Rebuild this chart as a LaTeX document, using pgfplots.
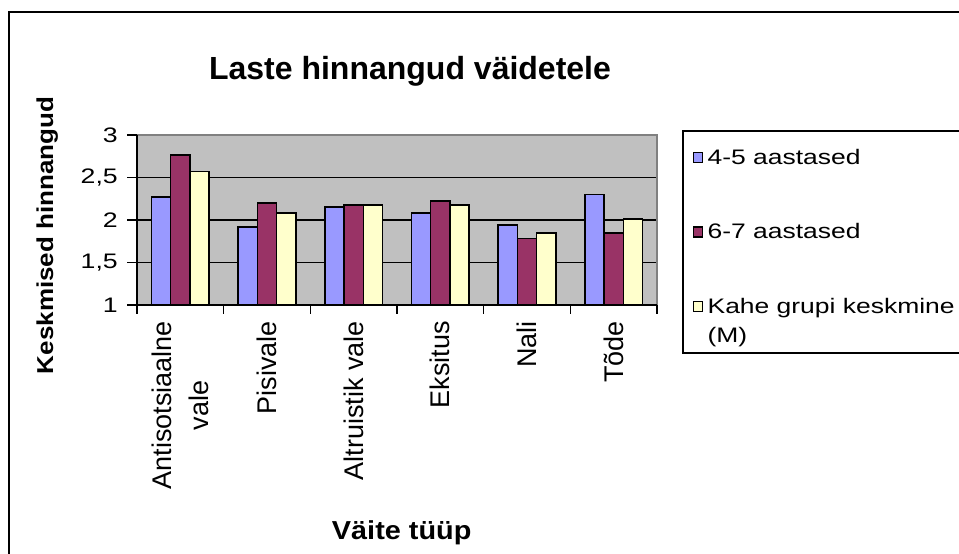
\documentclass[border=0pt]{standalone}
\usepackage{fontspec}
\setmainfont{Liberation Sans}
\usepackage{graphicx}
\usepackage{pgfplots}
\pgfplotsset{compat=1.18}
\definecolor{cblue}{RGB}{153,153,255}
\definecolor{cred}{RGB}{153,51,102}
\definecolor{cyel}{RGB}{255,255,204}
\definecolor{cbg}{RGB}{192,192,192}
\definecolor{cgr}{RGB}{128,128,128}
\newcommand{\wide}[1]{\scalebox{1.26}[1]{#1}}
\newcommand{\wy}[1]{\scalebox{1.27}[1]{#1}}
\begin{document}
\begin{tikzpicture}[x=1pt,y=1pt]
\useasboundingbox (0,0) rectangle (959,554);
\clip (0,0) rectangle (959,554);
\draw[line width=1.4pt] (9,-20) -- (9,542) -- (1000,542);
\begin{axis}[
  at={(137pt,249pt)}, anchor=south west,
  scale only axis, width=520pt, height=170pt,
  ybar=0pt, bar width=0.2226,
  xmin=-0.5, xmax=5.5, ymin=1, ymax=3,
  xtick={0,...,5},
  xticklabels={{Antisotsiaalne\\vale},Pisivale,{Altruistik vale},Eksitus,Nali,Tõde},
  minor xtick={-0.5,0.5,...,5.5},
  ytick={1,1.5,...,3},
  yticklabels={{\wy{1}},{\wy{1,5}},{\wy{2}},{\wy{2,5}},{\wy{3}}},
  tick pos=left,
  tick align=outside,
  major tick length=10pt,
  minor tick length=9pt,
  tick style={black, line width=1.4pt},
  major x tick style={draw=none},
  xticklabel style={rotate=90, anchor=east, align=center, font=\fontsize{27}{37}\selectfont, inner xsep=6pt},
  yticklabel style={font=\fontsize{21}{25}\selectfont, inner xsep=9pt},
  ymajorgrids, grid style={black, line width=1.4pt},
  axis line style={draw=none},
  axis background/.style={fill=cbg},
  title={Laste hinnangud väidetele},
  title style={at={(axis description cs:0.525,1.29)}, anchor=base, font=\fontsize{32}{38}\selectfont\bfseries},
  xlabel={\scalebox{1.11}[1]{Väite tüüp}},
  xlabel style={at={(axis description cs:0.509,-1.382)}, anchor=base, font=\fontsize{26}{30}\selectfont\bfseries},
  ylabel={\scalebox{1.13}[1]{Keskmised hinnangud}},
  ylabel style={at={(axis description cs:-0.1615,0.409)}, anchor=base, font=\fontsize{23}{28}\selectfont\bfseries},
  legend style={at={(axis description cs:1.0683,0.9176)}, anchor=north west, draw=none, fill=none, inner sep=0pt, outer sep=0pt, row sep=54.5pt, column sep=5pt, font=\fontsize{21}{29}\selectfont, nodes={anchor=base west, inner sep=0pt, text height=15pt, text depth=5pt}},
  legend image code/.code={\draw[#1, line width=1.1pt] (0pt,1.5pt) rectangle (9pt,11.5pt);},
  after end axis/.code={
    \draw[cgr, line width=1.4pt] (axis description cs:0,1) -- (axis description cs:1,1) -- (axis description cs:1,0);
    \draw[black, line width=1.4pt] (axis description cs:0,1) -- (axis description cs:0,0) -- (axis description cs:1,0);
    \draw[black, line width=1.4pt] (axis description cs:2,1.0235) -- (axis description cs:1.05,1.0235) -- (axis description cs:1.05,-0.2824) -- (axis description cs:2,-0.2824);
  },
]
\addplot[fill=cblue, draw=black, line width=1.6pt] coordinates {(0,2.27) (1,1.915) (2,2.15) (3,2.08) (4,1.94) (5,2.30)};
\addlegendentry{\wide{4-5 aastased}}
\addplot[fill=cred, draw=black, line width=1.6pt] coordinates {(0,2.764) (1,2.20) (2,2.175) (3,2.22) (4,1.78) (5,1.85)};
\addlegendentry{\wide{6-7 aastased}}
\addplot[fill=cyel, draw=black, line width=1.6pt] coordinates {(0,2.57) (1,2.08) (2,2.175) (3,2.175) (4,1.85) (5,2.015)};
\addlegendentry{\begin{tabular}[t]{@{}l@{}}\wide{Kahe grupi keskmine}\\\wide{(M)}\end{tabular}}
\end{axis}
\end{tikzpicture}
\end{document}
